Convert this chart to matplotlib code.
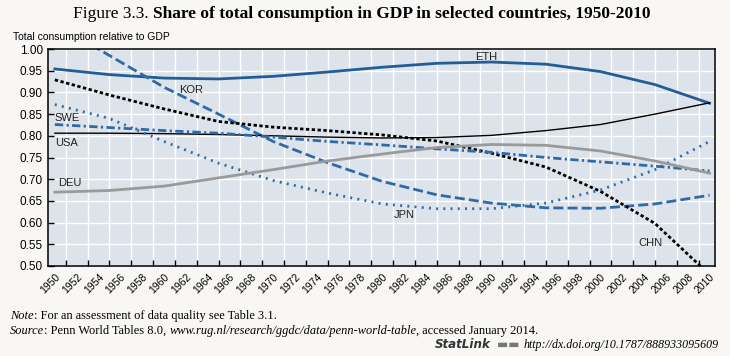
import matplotlib
matplotlib.use('Agg')
from matplotlib import pyplot as plt

# values, every 5 years
years = [1950, 1955, 1960, 1965, 1970, 1975, 1980, 1985, 1990, 1995, 2000, 2005, 2010]

eth = [0.954, 0.941, 0.933, 0.931, 0.937, 0.947, 0.958, 0.967, 0.970, 0.965, 0.948, 0.918, 0.875]
kor = [1.060, 0.985, 0.912, 0.850, 0.787, 0.738, 0.695, 0.664, 0.645, 0.634, 0.633, 0.643, 0.663]
chn = [0.929, 0.894, 0.862, 0.833, 0.820, 0.812, 0.802, 0.788, 0.760, 0.728, 0.672, 0.598, 0.480]
usa = [0.806, 0.806, 0.805, 0.803, 0.800, 0.797, 0.795, 0.796, 0.801, 0.812, 0.826, 0.850, 0.876]
jpn = [0.872, 0.840, 0.787, 0.737, 0.697, 0.668, 0.643, 0.632, 0.632, 0.645, 0.675, 0.722, 0.787]
swe = [0.826, 0.819, 0.812, 0.806, 0.797, 0.787, 0.779, 0.770, 0.762, 0.750, 0.740, 0.730, 0.719]
deu = [0.670, 0.674, 0.684, 0.703, 0.722, 0.742, 0.758, 0.773, 0.780, 0.778, 0.765, 0.742, 0.714]

# (name, x, y, ha) for the inline labels
labels = [
    ('ETH', 1989.5, 0.982, 'center'),
    ('KOR', 1962.5, 0.906, 'center'),
    ('SWE', 1950.0, 0.841, 'left'),
    ('USA', 1950.0, 0.783, 'left'),
    ('DEU', 1950.3, 0.691, 'left'),
    ('JPN', 1982.0, 0.618, 'center'),
    ('CHN', 2004.6, 0.552, 'center'),
]

year_labels = list(range(1950, 2011, 2))
yticks = [0.50, 0.55, 0.60, 0.65, 0.70, 0.75, 0.80, 0.85, 0.90, 0.95, 1.00]

W, H = 730, 356
BLUE = '#2f6aa6'
DBLUE = '#235d98'
SANS = ['Liberation Sans', 'DejaVu Sans']
SERIF = ['Liberation Serif', 'DejaVu Serif']

fig = plt.figure(figsize=(W / 100, H / 100), dpi=100)
fig.patch.set_facecolor('#f8f7f5')
ax = fig.add_axes([48.3 / W, 1 - 266 / H, (715 - 48.3) / W, (266 - 49) / H])
ax.set_facecolor('#dde3ea')

ax.plot(years, eth, color=DBLUE, lw=2.0)
ax.plot(years, kor, color=BLUE, lw=2.0, dashes=(3.6, 1.5))
ax.plot(years, chn, color='black', lw=2.0, dashes=(1.2, 0.9))
ax.plot(years, usa, color='black', lw=1.0)
ax.plot(years, jpn, color=BLUE, lw=2.0, dashes=(0.7, 1.9))
ax.plot(years, swe, color=BLUE, lw=2.0, dashes=(3.0, 1.2, 0.8, 1.2))
ax.plot(years, deu, color='#9a9a9a', lw=2.0)

for name, x, y, ha in labels:
    ax.text(x, y, name, ha=ha, va='center', fontsize=8, family=SANS, color='#222222')

ax.set_xlim(1949.4, 2010.5)
ax.set_ylim(0.5, 1.0)

ax.set_xticks(range(1951, 2010, 2))
ax.set_xticklabels([])
ax.set_xticks(year_labels, [str(y) for y in year_labels], minor=True)
ax.tick_params(axis='x', which='minor', length=0, pad=4)
for t in ax.get_xticklabels(minor=True):
    t.set_rotation(45)
    t.set_ha('right')
    t.set_rotation_mode('anchor')
    t.set_fontsize(7.5)
    t.set_family(SANS)
ax.tick_params(axis='x', which='major', direction='in', length=4, width=1)

ax.set_yticks(yticks, ['%.2f' % v for v in yticks])
ax.tick_params(axis='y', direction='in', length=4, width=1, labelsize=8.5, pad=4)
for t in ax.get_yticklabels():
    t.set_family(SANS)

ax.grid(True, which='major', color='white', lw=1)
ax.set_axisbelow(True)
for s in ax.spines.values():
    s.set_color('black')
    s.set_linewidth(1.1)

fig.text(13 / W, 1 - 37 / H, 'Total consumption relative to GDP', fontsize=7.5,
         family=SANS, va='center')

renderer = fig.canvas.get_renderer()


def rich(x, y, parts, size):
    # draw pieces one after another, in pixel coords
    for s, kw in parts:
        t = fig.text(x / W, 1 - y / H, s, fontsize=size, va='center', ha='left', **kw)
        x += t.get_window_extent(renderer).width
    return x


rich(73, 14, [('Figure 3.3. ', dict(family=SERIF)),
              ('Share of total consumption in GDP in selected countries, 1950-2010',
               dict(family=SERIF, weight='bold'))], 12.5)

rich(10, 316, [('Note', dict(family=SERIF, style='italic')),
               (': For an assessment of data quality see Table 3.1.', dict(family=SERIF))], 8.9)
rich(10, 331, [('Source', dict(family=SERIF, style='italic')),
               (': Penn World Tables 8.0, ', dict(family=SERIF)),
               ('www.rug.nl/research/ggdc/data/penn-world-table', dict(family=SERIF, style='italic')),
               (', accessed January 2014.', dict(family=SERIF))], 8.9)
rich(435, 345, [('StatLink', dict(family=['DejaVu Sans'], style='italic', weight='bold', color='#333333')),
                ('  ', dict(family=SERIF)),
                ('\u25ac\u25ac ', dict(family=['DejaVu Sans'], color='#777777')),
                ('http://dx.doi.org/10.1787/888933095609', dict(family=SERIF, style='italic'))], 8.6)

fig.savefig('out.png', dpi=100, facecolor=fig.get_facecolor())
